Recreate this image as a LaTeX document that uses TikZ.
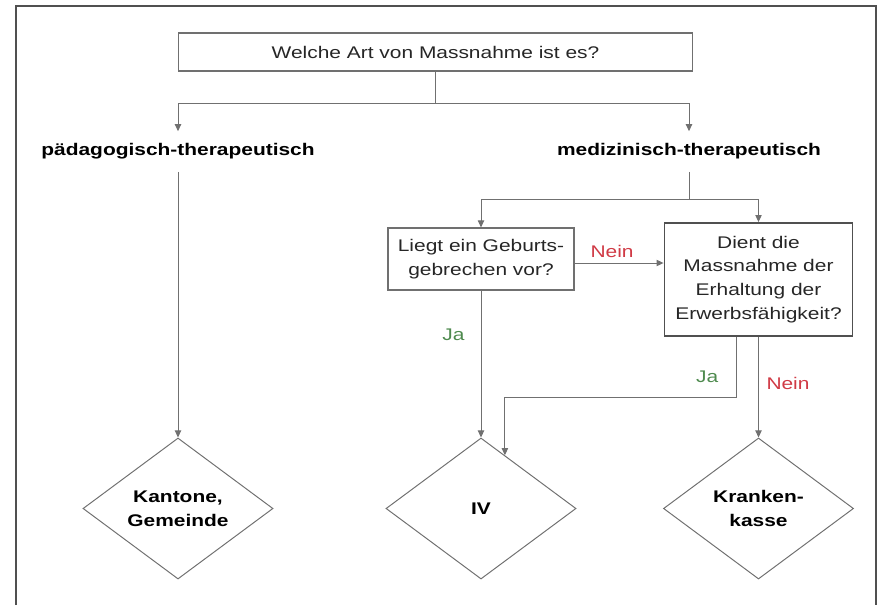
\documentclass[tikz,border=0pt]{standalone}
\usepackage{fontspec}
\setmainfont{Liberation Sans}[FakeStretch=1.24]
\usepackage{tikz}
\usetikzlibrary{arrows.meta,shapes,positioning,calc}
\definecolor{linegray}{HTML}{707070}
\definecolor{framegray}{HTML}{505050}
\definecolor{neinred}{HTML}{D03A45}
\definecolor{jagreen}{HTML}{4E8A4E}

\begin{document}
\begin{tikzpicture}[x=0.025cm, y=-0.025cm,
    every node/.style={font=\fontsize{12}{17}\selectfont, text=black!85},
    box style/.style={draw=linegray, line width=0.8pt, align=center, inner sep=0pt},
    head style/.style={font=\fontsize{12}{17}\selectfont\bfseries, text=black, minimum height=1cm, inner sep=0pt},
    leaf style/.style={diamond, draw=linegray, line width=0.7pt, minimum width=4.75cm, minimum height=3.525cm, inner sep=0pt, align=center, font=\fontsize{12}{17}\selectfont\bfseries, text=black},
    arr/.style={draw=linegray, line width=0.7pt, -{Triangle[length=5pt,width=4.5pt]}},
    ja style/.style={text=jagreen},
    nein style/.style={text=neinred}
]
\useasboundingbox (0,0) rectangle (880,605);
\draw[framegray, line width=1.2pt] (16,605) -- (16,6) -- (876,6) -- (876,605);

\node[box style, minimum width=12.825cm, minimum height=0.95cm] (q) at (435.5,52) {Welche Art von Massnahme ist es?};
\node[head style] (pad) at (178,151.5) {pädagogisch-therapeutisch};
\node[head style] (med) at (689,151.5) {medizinisch-therapeutisch};

\node[box style, minimum width=4.65cm, minimum height=1.55cm] (geb) at (481,259) {Liegt ein Geburts-\\gebrechen vor?};
\node[box style, draw=framegray, line width=1.3pt, minimum width=4.7cm, minimum height=2.825cm] (erw) at (758.5,279.5) {Dient die\\Massnahme der\\Erhaltung der\\Erwerbsfähigkeit?};

\node[leaf style] (kant) at (178,508.5) {Kantone,\\Gemeinde};
\node[leaf style] (iv) at (481,508.5) {IV};
\node[leaf style] (kk) at (758.5,508.5) {Kranken-\\kasse};

\coordinate (j1) at (435.5,103);
\coordinate (j2) at (689,199);
\coordinate (bend) at (736,397);
\coordinate (ivin) at ($(iv.north)!0.25!(iv.east)$);

\draw[linegray, line width=0.7pt] (q.south) -- (j1);
\draw[arr] (j1) -| (pad);
\draw[arr] (j1) -| (med);
\draw[arr] (pad) -- (kant);

\draw[linegray, line width=0.7pt] (med.south) -- (j2);
\draw[arr] (j2) -| (geb);
\draw[arr] (j2) -| (erw);

\draw[arr] ([yshift=-0.1cm]geb.east) -- ([yshift=-0.1cm]geb.east -| erw.west) node[nein style, midway, above=0pt, xshift=-5pt] {Nein};
\draw[arr] (geb) -- (iv) node[ja style, pos=0.3, left=8pt] {Ja};
\draw[arr] (erw.south -| bend) -- (bend) node[ja style, pos=0.67, left=9pt] {Ja} -| (ivin);
\draw[arr] (erw) -- (kk) node[nein style, pos=0.46, right=2pt] {Nein};
\end{tikzpicture}
\end{document}
